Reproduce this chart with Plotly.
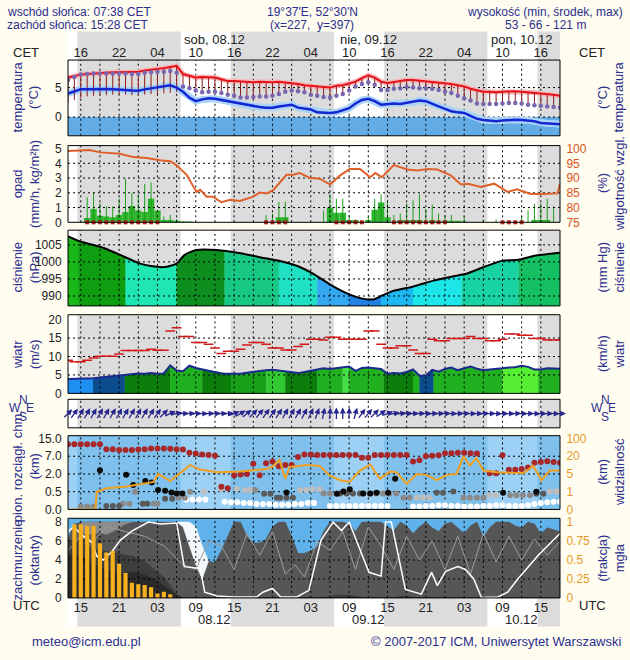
import numpy as np
import plotly.graph_objects as go

W, H = 630, 660
XL, XR = 68, 560

# ---------------- data (hours since 13 UTC 07.12) ----------------
hours = list(range(78))
utc_ticks = [2, 8, 14, 20, 26, 32, 38, 44, 50, 56, 62, 68, 74]
utc_labels = ['15', '21', '03', '09', '15', '21', '03', '09', '15', '21', '03', '09', '15']
cet_labels = ['16', '22', '04', '10', '16', '22', '04', '10', '16', '22', '04', '10', '16']
day_pos = [23, 47, 71]
day_top = ['sob, 08.12', 'nie, 09.12', 'pon, 10.12']
day_bottom = ['08.12', '09.12', '10.12']
night = [(1.47, 17.63), (25.47, 41.63), (49.47, 65.63), (73.47, 77)]

temp = [6.7, 7.0, 7.2, 7.3, 7.4, 7.5, 7.5, 7.6, 7.6, 7.6,
        7.6, 7.7, 7.9, 8.0, 8.1, 8.3, 8.5, 8.7, 7.3, 7.0,
        6.7, 6.8, 6.8, 6.7, 6.4, 6.1, 6.1, 6.0, 5.9, 5.9,
        6.0, 5.9, 5.9, 6.0, 5.9, 5.8, 5.6, 5.4, 5.3, 5.1,
        5.0, 5.0, 5.3, 5.4, 5.7, 6.0, 6.6, 7.1, 6.7, 6.0,
        5.8, 6.0, 6.2, 6.3, 6.3, 6.2, 6.1, 6.0, 5.9, 5.7,
        5.6, 5.4, 5.2, 4.8, 4.5, 4.3, 4.3, 4.2, 4.3, 4.4,
        4.4, 4.3, 4.2, 4.2, 4.0, 3.9, 3.8, 3.6]
dew = [4.0, 4.4, 4.7, 4.7, 4.75, 4.75, 4.75, 4.7, 4.7, 4.6,
       4.5, 4.45, 4.7, 4.9, 5.0, 5.2, 5.4, 5.0, 4.3, 3.3,
       2.7, 3.0, 3.2, 3.1, 2.9, 2.6, 2.5, 2.3, 2.0, 1.8,
       1.7, 1.6, 1.6, 1.8, 2.0, 2.1, 1.6, 1.4, 1.3, 0.8,
       0.7, 0.7, 0.8, 1.1, 1.5, 2.3, 2.9, 3.1, 2.7, 2.1,
       2.2, 2.3, 2.2, 2.4, 2.5, 2.8, 2.7, 2.2, 1.8, 1.4,
       1.0, 0.8, 0.7, 0.2, -0.3, -0.5, -0.6, -0.7, -0.6, -0.5,
       -0.45, -0.5, -0.55, -0.7, -1.0, -1.1, -1.1, -1.2]
feel = [6.3, 6.8, 7.2, 7.3, 7.4, 7.4, 7.4, 7.4, 7.4, 7.4,
        7.3, 7.3, 7.5, 7.6, 7.7, 7.7, 7.8, 7.5, 5.2, 4.9,
        4.5, 4.2, 4.3, 4.3, 4.1, 3.8, 3.6, 3.3, 3.3, 3.4,
        3.5, 3.5, 3.6, 3.9, 4.3, 4.5, 4.4, 4.2, 3.8, 3.6,
        3.4, 3.3, 3.6, 3.9, 4.5, 5.2, 5.6, 5.9, 5.5, 4.6,
        4.6, 4.8, 4.9, 5.1, 5.0, 4.9, 4.9, 4.8, 4.6, 4.3,
        4.1, 3.6, 3.2, 2.8, 2.3, 2.2, 2.2, 2.2, 2.3, 2.4,
        2.4, 2.3, 2.1, 2.0, 1.9, 1.8, 1.7, 1.6]
stem_low_night = [2.6, 2.9, 3.2, 3.5, 3.6, 3.7, 3.7, 3.8, 3.8, 3.8,
                  3.7, 3.7, 3.8, 3.9, 3.9, 4.0, 4.1, 4.3]
stem_low = stem_low_night + feel[18:]

precip_mean = [0, 0, 0, 0.3, 0.9, 0.45, 0.4, 0.35, 0.5, 0.7,
               1.1, 0.8, 0.7, 1.6, 0.8, 0.15, 0.15, 0.1, 0.05, 0.05,
               0, 0, 0, 0, 0, 0, 0, 0, 0, 0,
               0, 0, 0, 0.35, 0.35, 0, 0, 0, 0, 0,
               0, 1.0, 0.65, 0.65, 0.15, 0.15, 0, 0.15, 0.85, 1.35,
               0.35, 0, 0.15, 0.15, 0.15, 0.15, 0, 0.15, 0, 0.1,
               0.1, 0.1, 0.05, 0, 0, 0, 0, 0, 0, 0,
               0, 0, 0, 0.15, 0.15, 0.15, 0, 0]
precip_max = [0, 0, 0, 1.7, 2.0, 1.3, 1.1, 1.1, 1.6, 2.95,
              2.0, 1.9, 2.6, 2.7, 0.2, 0.4, 0.5, 0.2, 0.1, 0,
              0, 0, 0, 0, 0, 0, 0, 0, 0, 0,
              0, 0.5, 0.6, 1.4, 1.4, 0, 0, 0, 0, 0,
              0.8, 1.9, 1.6, 1.6, 0.5, 0.2, 0, 0.4, 1.6, 1.9,
              1.4, 0.5, 0.6, 1.3, 1.5, 1.9, 0.9, 1.2, 0.6, 0.5,
              0.5, 0, 0.4, 0, 0, 0.2, 0, 0.2, 0, 0.1,
              0, 0.4, 0.8, 1.25, 1.3, 1.6, 1.1, 0]
precip_flag_hours = [3, 4, 5, 6, 7, 8, 9, 10, 11, 12, 13, 14, 31, 32, 33, 34,
                     42, 43, 44, 45, 46, 51, 52, 53, 54, 55, 56, 57, 58, 59, 68, 69, 70, 71]
rh_hours = [0, 3.4, 5, 6.6, 8.1, 10.2, 12.3, 14.4, 16, 17, 18.6, 20.1, 20.7, 21.7, 22.7,
            24, 25.4, 26.9, 29, 30, 31.1, 32.1, 34.2, 35.2, 36.3, 37.9, 39.4, 41, 42.6,
            44.1, 45.7, 47.3, 48.1, 49.1, 51, 53.1, 54.7, 56.3, 57.8, 59.9, 61.5, 62.6,
            64.6, 66.7, 68.8, 70.3, 72.4, 74.5, 76.6, 77]
rh_values = [99.2, 99.5, 98.7, 98.4, 98.2, 97.1, 96.8, 96.0, 95.7, 94.3, 91.0, 85.3, 86.0,
             83.7, 83.7, 81.8, 82.6, 82.2, 83.7, 85.1, 84.8, 85.9, 91.1, 91.1, 91.7, 90.0,
             89.8, 87.8, 90.9, 93.1, 93.1, 90.3, 91.7, 90.3, 94.4, 92.9, 92.6, 93.1, 92.9,
             90.9, 87.8, 88.1, 87.0, 88.1, 85.3, 86.2, 84.6, 84.6, 84.8, 88.0]

p_hours = [0, 1.9, 5.7, 8.8, 11.3, 13.2, 15.1, 17, 18.2, 20.1, 23.3, 27, 30.2, 33.3, 35.9,
           38.4, 40.9, 43.4, 45.9, 47.8, 49, 50.9, 54.1, 57.2, 60.4, 62.3, 64.8, 67.9,
           70.5, 73, 77]
p_values = [1007.5, 1006, 1004, 1001.5, 999.5, 998.7, 998.5, 999.5, 1002, 1003.5, 1003.5,
            1002.5, 1001.3, 1000.2, 998.8, 996.5, 993.5, 991, 989.3, 989, 990, 991.5,
            992.8, 994.5, 995.8, 996.5, 998.3, 1000.3, 1000.6, 1001.8, 1002.7]
p_color_segments = [(0, 1.6, '#18B818'), (1.6, 9, '#0F9E12'), (9, 17, '#20E6B2'),
                    (17, 24.5, '#0D8E1E'), (24.5, 33, '#17C884'), (33, 39, '#20E0C4'),
                    (39, 44, '#34A8F2'), (44, 49, '#2282E4'), (49, 54, '#1DB8F2'),
                    (54, 61.6, '#1DE6E8'), (61.6, 70.5, '#19D4A2'), (70.5, 77, '#15C062')]

wind_mean = [3.9, 3.9, 3.9, 4.0, 4.1, 4.3, 4.5, 4.7, 4.9, 5.0,
             5.2, 5.4, 5.3, 5.5, 5.3, 5.4, 7.6, 6.2, 6.0, 7.5,
             6.9, 6.5, 6.2, 5.8, 5.4, 5.3, 5.3, 5.3, 5.6, 5.9,
             6.0, 6.3, 6.4, 6.2, 5.9, 5.6, 5.5, 5.8, 6.1, 6.5,
             6.8, 6.6, 6.9, 7.1, 7.3, 6.1, 6.9, 7.0, 6.8, 6.6,
             5.3, 5.5, 5.4, 5.8, 6.5, 4.8, 4.8, 6.4, 5.9, 6.6,
             7.0, 6.3, 6.8, 7.3, 6.7, 6.3, 6.5, 6.6, 6.8, 7.0,
             7.1, 7.5, 7.2, 6.5, 6.5, 6.8, 6.7, 6.7]
wind_gust = [9.0, 8.6, 8.6, 9.0, 9.6, 10.1, 10.1, 10.1, 10.7, 11.6,
             11.6, 11.6, 11.6, 12.0, 11.7, 11.7, 16.9, 17.8, 15.4, 15.4,
             13.8, 13.8, 13.3, 12.3, 10.8, 11.4, 11.4, 12.0, 13.1, 13.8,
             13.8, 13.3, 12.3, 12.3, 11.8, 11.8, 12.7, 13.3, 14.7, 14.7,
             14.5, 15.2, 15.2, 14.7, 14.7, 14.7, 14.7, 16.9, 16.9, 13.3,
             12.3, 12.3, 12.9, 12.9, 11.8, 10.8, 10.8, 14.7, 14.3, 14.3,
             14.9, 14.9, 14.9, 15.4, 14.9, 14.9, 14.3, 14.3, 14.7, 16.1,
             16.1, 15.8, 15.8, 14.9, 14.9, 14.5, 14.5, 14.5]
wind_color_segments = [(0, 3.9, '#1E8FF0'), (3.9, 8.9, '#0B4C8C'), (8.9, 16, '#0A7D0A'),
                       (16, 21, '#20B020'), (21, 25.5, '#0A7D0A'), (25.5, 31, '#18A018'),
                       (31, 34, '#32C832'), (34, 39, '#0A7D0A'), (39, 43, '#20B020'),
                       (43, 44, '#46DE46'), (44, 49.4, '#20B020'), (49.4, 54, '#0A7D0A'),
                       (54, 55, '#20B020'), (55, 57.2, '#0B4C8C'), (57.2, 68, '#20B020'),
                       (68, 73.6, '#55EE33'), (73.6, 77, '#22B022')]
wind_dir = [225, 215, 210, 210, 210, 210, 210, 210, 210, 210,
            210, 210, 210, 212, 215, 225, 245, 260, 268, 268,
            268, 270, 268, 268, 268, 265, 250, 240, 230, 225,
            220, 215, 215, 212, 210, 210, 210, 208, 205, 200,
            192, 185, 180, 180, 182, 195, 215, 220, 225, 235,
            250, 258, 262, 266, 268, 268, 270, 268, 266, 268,
            270, 268, 268, 270, 270, 268, 270, 272, 270, 270,
            268, 270, 270, 272, 270, 270, 272, 270]

cb_tick_km = [0, 0.5, 2, 7, 15]
cb_tick_text = ['0.0', '0.5', '2.0', '7.0', '15.0']
vis_tick_km = [0, 1, 5, 20, 100]
vis_tick_text = ['0', '1', '5', '20', '100']
red_hours = [0, 1, 2, 3, 4, 5, 6, 7, 8, 9, 10, 11, 12, 13, 14, 15, 16, 17, 18, 19, 20, 21, 22, 23,
             24, 25, 26, 27, 28, 29, 30, 31, 32, 33, 34, 35, 36, 37, 38, 39, 40, 41, 42, 43, 44,
             45, 46, 47, 48, 49, 50, 51, 52, 53, 54, 55, 56, 57, 58, 59, 60, 61, 62, 63, 64,
             66, 67, 68, 69, 70, 71, 72, 73, 74, 75, 76, 77]
red_km = [12.4, 12.4, 12.4, 12.4, 12.4, 12.4, 10.2, 10.2, 9.8, 9.8, 9.8, 10.0, 10.2,
          10.5, 10.5, 10.5, 10.4, 10.2, 10.0, 8.6, 8.2, 7.8, 7.6, 7.2,
          0.92, 0.79, 1.9, 1.95, 2.0, 4.9, 1.9, 5.0, 5.5, 4.2, 4.5, 4.5, 6.8, 7.8, 7.8,
          7.6, 7.6, 7.6, 7.6, 7.6, 7.6, 7.6, 6.6, 6.6, 7.6, 7.6, 7.6, 7.6, 7.6, 7.6,
          5.5, 5.9, 7.0, 7.2, 7.4, 8.4, 8.4, 8.6, 8.6, 8.4, 8.2,
          2.2, 2.2, 7.4, 3.2, 3.2, 3.4, 3.8, 5.2, 5.4, 5.6, 5.4, 5.2]
black_hours = [5, 9.1, 10.2, 12.1, 13.1, 14.1, 15.2, 16.2, 17, 17.9, 34.2, 42.1, 43.1, 44.1,
               46.2, 47.3, 48.3, 50.1, 51.2, 68.1, 73.3]
black_km = [3.05, 1.93, 1.06, 1.4, 1.27, 0.65, 0.59, 0.48, 0.45, 0.45, 0.48, 0.44, 0.52,
            0.71, 0.45, 0.45, 0.47, 0.47, 1.6, 0.47, 0.5]
dgray_hours = [6, 7, 8, 11.7, 12.4, 15.2, 16.3, 30.7, 31.7, 32.7, 33.2, 34.2, 35.2, 42.6,
               43.6, 44.6, 45.7, 57.7, 58.7, 60.3, 73.3, 74.4]
dgray_km = [0.1, 0.1, 0.1, 0.16, 0.16, 0.3, 0.3, 0.44, 0.44, 0.33, 0.33, 0.33, 0.33, 0.45,
            0.45, 0.45, 0.45, 0.47, 0.47, 0.52, 0.44, 0.44]
mgray_hours = [2, 3, 4, 8.6, 9.6, 10.5, 13.4, 14, 17.3, 18.3, 19.1, 29.3, 40, 41, 42, 46.2,
               47.2, 48.2, 49.3, 50.3, 51.4, 52.5, 53.5, 61.9, 62.9, 64, 65, 69.2, 70.2,
               71.2, 72.3]
mgray_km = [0.08, 0.08, 0.08, 0.16, 0.16, 0.5, 0.16, 0.16, 0.33, 0.33, 0.5, 0.65, 0.45,
            0.45, 0.45, 0.45, 0.45, 0.45, 0.45, 0.45, 0.45, 0.33, 0.33, 0.33, 0.33, 0.33,
            0.33, 0.4, 0.4, 0.4, 0.4]
lgray_hours = [21.3, 23.9, 26.4, 27.7, 28.5, 36.3, 37.3, 38.3, 39.4, 54.6, 55.6, 56.6, 66,
               67, 75.4, 76.4, 77]
lgray_km = [0.52, 0.72, 0.72, 0.65, 0.65, 0.65, 0.65, 0.7, 0.7, 0.33, 0.33, 0.33, 0.4, 0.4,
            0.52, 0.52, 0.52]
white_hours = [18.5, 19.5, 20.5, 21.5,
               24.5, 25.5, 26.5, 27.5, 28.5, 29.5, 30.5, 31.5, 32.5, 33.5, 34.5, 35.5, 36.5,
               37.5, 38.5,
               41, 42, 43, 44, 45, 46, 47, 48, 49, 50,
               54, 55, 56, 57, 58, 59, 60, 61, 62, 63, 64, 65, 66, 67, 68, 69, 70, 71, 72,
               73, 74, 75, 76, 77]
white_km = [0.28, 0.28, 0.28, 0.28,
            0.22, 0.2, 0.2, 0.18, 0.18, 0.15, 0.15, 0.15, 0.13, 0.13, 0.13, 0.15, 0.15,
            0.18, 0.18,
            0.1, 0.1, 0.1, 0.1, 0.1, 0.1, 0.1, 0.1, 0.1, 0.1,
            0.08, 0.08, 0.1, 0.1, 0.12, 0.12, 0.1, 0.1, 0.08, 0.08, 0.08, 0.1, 0.1, 0.12,
            0.12, 0.1, 0.1, 0.1, 0.12, 0.15, 0.18, 0.2, 0.22, 0.22]
vis_hours = [0, 4.3, 4.5, 6.1, 9.2, 12.3, 13.4, 14.1, 16, 19.1, 20.7, 23.3, 26.9, 31.1, 32.1,
             33.1, 34, 34.7, 37.4, 39.4, 41, 42.6, 44.1, 45.7, 47.3, 48.8, 50.4, 51.4, 53,
             54.6, 56.1, 57.7, 59.3, 60.8, 61.9, 62.9, 63.9, 65, 67.1, 69.2, 71.3, 72.8,
             74.1, 75.4, 77]
vis_km = [0, 0, 1.0, 1.76, 2.2, 2.84, 3.2, 5.0, 3.4, 12.5, 8.75, 6.5, 7.0, 9.2, 11.5,
          17, 3.9, 11, 12.5, 11.8, 4.6, 3.6, 3.2, 7.9, 13, 3.9, 7.0, 6.5, 2.8,
          5.0, 4.8, 3.6, 4.8, 5.0, 20, 12, 18.5, 7.9, 6.5, 6.0, 5.8, 12,
          3.6, 7.9, 7.9]

cloud_total = [6.3, 7.8, 8, 8, 8, 8, 8, 8, 8, 8,
               8, 8, 8, 8, 8, 8, 8, 8, 7.5, 5.5,
               3.5, 2.0, 3.9, 3.7, 5.0, 6.5, 8, 8, 6.5, 5.8,
               5.8, 6.2, 7.5, 8, 8, 6.5, 4.7, 4.7, 5.0, 5.4,
               7.0, 8, 8, 8, 7.8, 7.0, 8, 8, 8, 8,
               7.5, 7.1, 8, 7.6, 6.8, 7.5, 8, 7.4, 7.0, 7.8,
               8, 7.4, 6.8, 7.6, 8, 6.4, 7.4, 8, 8, 8,
               7.6, 7.4, 8, 7.8, 6.8, 7.4, 7.2, 7.0]
cloud_high_hours = [2, 3, 4, 5, 6, 7, 8, 9, 10]
cloud_high_base = [7.0, 6.6, 6.8, 6.9, 6.7, 7.0, 7.4, 7.8, 8.0]
white_patch_hours = [17, 18, 19, 20, 21, 22]
white_patch_top = [8, 8, 8, 7.5, 5.5, 3.9]
cloud_low = [6.0, 6.2, 6.0, 5.5, 5.2, 5.0, 4.9, 4.8, 4.7, 4.5,
             4.4, 4.2, 3.8, 3.3, 2.7, 2.2, 1.3, 0.4, 0, 0,
             0, 0, 0, 0, 0, 0, 0, 0, 0, 0,
             0, 0, 0, 0, 0, 0, 0, 0, 0, 0,
             0, 0.2, 0.3, 0.3, 0.3, 0.2, 0.1, 0, 0, 0,
             0, 0, 0.2, 0.2, 0.1, 0, 0, 0, 0, 0,
             0, 0, 0, 0, 0, 0, 0, 0, 0, 0,
             0, 0, 0, 0, 0, 0, 0, 0]
cloud_vlow = [4.5, 4.6, 4.4, 4.0, 3.6, 3.2, 3.0, 2.8, 2.5, 2.6,
              2.7, 2.6, 2.4, 2.1, 1.8, 1.3, 0.8, 0.2] + [0] * 60
fog_hours = [1, 2, 3, 4, 5, 6, 7, 8, 9, 10, 11, 12, 13, 14, 15, 16]
fog_frac = [0.97, 0.97, 0.95, 0.95, 0.72, 0.60, 0.62, 0.45, 0.33, 0.20, 0.18, 0.17,
            0.14, 0.06, 0.08, 0.05]
wline_hours = [0, 0.9, 1.9, 3.8, 4.5, 5.5, 6.9, 8.2, 10.1, 12.6, 14.5, 17, 18.2, 20.7,
               21.4, 23.3, 25.8, 29.5, 30.5, 32, 33.3, 35.8, 37.7, 39.6, 41.5, 42.8, 44,
               45.9, 47.1, 49, 49.7, 50.6, 52.8, 55.3, 56.9, 57.8, 59.1, 61, 62.2, 63.5,
               64.7, 67.3, 68.8, 70.4, 73.6, 77]
wline_vals = [7.0, 7.5, 6.8, 5.8, 4.4, 4.0, 4.9, 6.1, 7.1, 8.0, 7.8, 7.9, 3.3, 3.1, 0.6,
              0.2, 0.1, 0.1, 0.6, 1.0, 0.1, 0.1, 0.8, 6.1, 8.0, 7.1, 8.0, 4.7, 2.7, 2.3,
              8.0, 8.0, 0.9, 0.4, 2.7, 1.3, 2.8, 3.3, 3.0, 2.0, 0.05, 0.1, 0.6, 2.0, 4.5,
              6.8]
gline_hours = [0, 2, 4, 6, 9, 12, 15, 18, 20, 22, 24, 26, 28, 30, 32, 34, 35.5, 37, 39, 41,
               43, 45, 47, 49, 51, 53, 55, 57, 59, 61, 63, 65, 67, 69, 71, 73, 75, 77]
gline_vals = [5, 6.5, 6, 7.5, 7, 6.5, 5.5, 3.5, 3.0, 6, 5.5, 3, 6.8, 4.5, 7.0, 2.5, 3.5,
              2.2, 6, 5, 7, 3, 7.5, 5.5, 3, 6.5, 4.0, 6.0, 3.0, 6.5, 2.5, 6.8, 3.8, 6.5,
              4.0, 6.2, 4.5, 6.0]

# ---------------- geometry / style ----------------
FONT = 'Liberation Sans, Arial, sans-serif'
NAVY = '#2B2F8E'
TICKC = '#222222'
ORANGE_RH = '#D9541E'
ORANGE = '#E89B2A'
NIGHT_GRAY = '#DCDCDC'
PANELS = {'temp': (57, 134), 'prec': (144, 222), 'pres': (230, 307), 'wind': (316, 396),
          'dir': (402, 431), 'vis': (439, 514), 'cld': (523, 604)}


def py(p):
    return 1 - p / H


def px(p):
    return p / W


def dom(name):
    t, b = PANELS[name]
    return [py(b), py(t)]


R = {
    'y': [-3.17, 9.67], 'y3': [0, 5.2], 'y4': [75, 101], 'y5': [987.1, 1009.3],
    'y7': [0, 21.33], 'y8': [0, 76.8], 'y9': [-1, 1], 'y10': [0, 4.16], 'y12': [0, 8.4],
    'y13': [0, 8.4 / 8],
}
R['y2'] = R['y']
R['y6'] = [R['y5'][0] * 0.750062, R['y5'][1] * 0.750062]
R['y11'] = R['y10']


def cb_idx(v):
    return list(np.interp(v, cb_tick_km, [0, 1, 2, 3, 4]))


def vis_idx(v):
    return list(np.interp(v, vis_tick_km, [0, 1, 2, 3, 4]))


def grid(yaxis, hvals, vlines=True):
    y0, y1 = R[yaxis]
    xs, ys = [], []
    if vlines:
        for v in range(2, 77, 3):
            xs += [v, v, None]
            ys += [y0, y1, None]
    for hv in hvals:
        xs += [0, 77, None]
        ys += [hv, hv, None]
    return go.Scatter(x=xs, y=ys, mode='lines', yaxis=yaxis, hoverinfo='skip',
                      line=dict(color='#000000', width=1, dash='2px,3px'), showlegend=False)


def seg_polys(xh, yv, segs, base, yaxis):
    out = []
    for a, b, col in segs:
        xs = [a] + [t for t in xh if a < t < b] + [b]
        ys = list(np.interp(xs, xh, yv))
        out.append(go.Scatter(x=xs + [b, a], y=ys + [base, base], fill='toself',
                              fillcolor=col, mode='lines', line=dict(color=col, width=0.6),
                              yaxis=yaxis, hoverinfo='skip', showlegend=False))
    return out


traces = []

# ---- temperature ----
traces.append(grid('y', [0, 5]))
sx, sy = [], []
for h in hours:
    sx += [h, h, None]
    sy += [temp[h], stem_low[h], None]
traces.append(go.Scatter(x=hours, y=dew, mode='lines', yaxis='y',
                         line=dict(color='#A9D3F8', width=7), hoverinfo='skip'))
traces.append(go.Scatter(x=hours, y=temp, mode='lines', yaxis='y',
                         line=dict(color='#F6B9B9', width=5), hoverinfo='skip'))
traces.append(go.Scatter(x=sx, y=sy, mode='lines', yaxis='y',
                         line=dict(color='#8E1B1B', width=1), hoverinfo='skip'))
traces.append(go.Scatter(x=hours, y=dew, mode='lines', yaxis='y',
                         line=dict(color='#1426D2', width=2.5), hoverinfo='skip'))
traces.append(go.Scatter(x=hours, y=temp, mode='lines', yaxis='y',
                         line=dict(color='#E3121B', width=2), hoverinfo='skip'))
traces.append(go.Scatter(x=hours, y=feel, mode='markers', yaxis='y',
                         marker=dict(color='#7A66B0', size=4.5), hoverinfo='skip'))

# ---- precipitation ----
traces.append(go.Bar(x=hours, y=precip_mean, width=1.0, yaxis='y3',
                     marker=dict(color='#2DB42D', line=dict(width=0)), hoverinfo='skip'))
mx, my = [], []
for h in hours:
    if precip_max[h] > 0:
        mx += [h, h, None]
        my += [0, precip_max[h], None]
traces.append(go.Scatter(x=mx, y=my, mode='lines', yaxis='y3',
                         line=dict(color='#19A019', width=1), hoverinfo='skip'))
traces.append(grid('y3', [1, 2, 3, 4]))
traces.append(go.Scatter(x=precip_flag_hours, y=[0] * len(precip_flag_hours), mode='markers',
                         yaxis='y3', cliponaxis=False,
                         marker=dict(symbol='square', size=4, color='#B3261E'), hoverinfo='skip'))
traces.append(go.Scatter(x=rh_hours, y=rh_values, mode='lines', yaxis='y4',
                         line=dict(color='#E0602A', width=2), hoverinfo='skip'))

# ---- pressure ----
traces += seg_polys(p_hours, p_values, p_color_segments, R['y5'][0] - 5, 'y5')
traces.append(go.Scatter(x=p_hours, y=p_values, mode='lines', yaxis='y5',
                         line=dict(color='#000000', width=2, shape='spline', smoothing=0.6),
                         hoverinfo='skip'))
traces.append(grid('y5', [990, 995, 1000, 1005]))

# ---- wind ----
traces += seg_polys(hours, wind_mean, wind_color_segments, 0, 'y7')
traces.append(grid('y7', [5, 10, 15]))
traces.append(go.Scatter(x=hours, y=wind_mean, mode='lines', yaxis='y7',
                         line=dict(color='#1B2A8C', width=2), hoverinfo='skip'))
traces.append(go.Scatter(x=hours, y=wind_gust, mode='markers', yaxis='y7',
                         marker=dict(symbol='line-ew', size=7,
                                     line=dict(color='#D21A1A', width=1.5)), hoverinfo='skip'))

# ---- wind direction ----
traces.append(grid('y9', []))

# ---- visibility / cloud base ----
traces.append(grid('y10', [1, 2, 3]))
for hh, kk, col in [(white_hours, white_km, '#FFFFFF'), (lgray_hours, lgray_km, '#BDBDBD'),
                    (mgray_hours, mgray_km, '#8A8A8A'), (dgray_hours, dgray_km, '#5A5A5A'),
                    (black_hours, black_km, '#0A0A0A'), (red_hours, red_km, '#A8282A')]:
    traces.append(go.Scatter(x=hh, y=cb_idx(kk), mode='markers', yaxis='y10',
                             marker=dict(color=col, size=6), hoverinfo='skip'))
traces.append(go.Scatter(x=vis_hours, y=vis_idx(vis_km), mode='lines', yaxis='y11',
                         cliponaxis=False, line=dict(color='#F0A020', width=2), hoverinfo='skip'))

# ---- cloud cover ----
traces.append(go.Scatter(x=hours, y=cloud_total, mode='lines', fill='tozeroy', yaxis='y12',
                         fillcolor='#565656', line=dict(color='#565656', width=0.5),
                         hoverinfo='skip'))
ch_top = [cloud_total[h] for h in cloud_high_hours]
traces.append(go.Scatter(x=cloud_high_hours + cloud_high_hours[::-1],
                         y=ch_top + cloud_high_base[::-1], fill='toself', mode='lines',
                         fillcolor='#8C8C8C', line=dict(color='#8C8C8C', width=0.5),
                         yaxis='y12', hoverinfo='skip'))
wp_bot = [cloud_total[h] for h in white_patch_hours]
traces.append(go.Scatter(x=white_patch_hours + white_patch_hours[::-1],
                         y=white_patch_top + wp_bot[::-1], fill='toself', mode='lines',
                         fillcolor='#F4F8FA', line=dict(color='#F4F8FA', width=0.5),
                         yaxis='y12', hoverinfo='skip'))
traces.append(go.Scatter(x=hours, y=cloud_low, mode='lines', fill='tozeroy', yaxis='y12',
                         fillcolor='#3D3D3D', line=dict(color='#3D3D3D', width=0.5),
                         hoverinfo='skip'))
traces.append(go.Scatter(x=hours, y=cloud_vlow, mode='lines', fill='tozeroy', yaxis='y12',
                         fillcolor='#2A2A2A', line=dict(color='#2A2A2A', width=0.5),
                         hoverinfo='skip'))
traces.append(grid('y12', [2, 4, 6]))
traces.append(go.Scatter(x=gline_hours, y=gline_vals, mode='lines', yaxis='y12',
                         line=dict(color='#9C9C9C', width=1), hoverinfo='skip'))
traces.append(go.Scatter(x=wline_hours, y=wline_vals, mode='lines', yaxis='y12',
                         line=dict(color='#FFFFFF', width=1.5), hoverinfo='skip'))
traces.append(go.Bar(x=fog_hours, y=fog_frac, width=0.65, yaxis='y13',
                     marker=dict(color='#F7B01E', line=dict(width=0)), hoverinfo='skip'))

# dummy trace for top axis
traces.append(go.Scatter(x=[0], y=[0], xaxis='x2', yaxis='y', mode='markers',
                         marker=dict(opacity=0), hoverinfo='skip'))

fig = go.Figure(data=traces)
for t in fig.data:
    if t.xaxis is None:
        t.xaxis = 'x'
    t.showlegend = False


def yax(name, rng, tickvals=None, ticktext=None, side='left', overlay=None, color=TICKC):
    d = dict(domain=dom(name), range=rng, anchor='x', side=side, showgrid=False,
             zeroline=False, showline=False, ticks='outside', ticklen=3,
             tickcolor='rgba(0,0,0,0)', fixedrange=True,
             tickfont=dict(size=12, color=color, family=FONT))
    if tickvals is None:
        d['showticklabels'] = False
    else:
        d['tickvals'] = tickvals
        if ticktext:
            d['ticktext'] = ticktext
    if overlay:
        d['overlaying'] = overlay
    return d


xcommon = dict(domain=[px(XL), px(XR)], range=[0, 77], showgrid=False, zeroline=False,
               showline=False, ticks='', fixedrange=True, tickvals=utc_ticks,
               tickfont=dict(size=13, color=TICKC, family=FONT))
layout = dict(
    width=W, height=H, margin=dict(l=0, r=0, t=0, b=0, pad=0), autosize=False,
    paper_bgcolor='#FFFCF0', plot_bgcolor='#FFFFFF', showlegend=False, barmode='overlay',
    hovermode=False, font=dict(family=FONT, size=12, color=TICKC),
    xaxis=dict(xcommon, anchor='free', position=py(604), side='bottom', ticktext=utc_labels),
    xaxis2=dict(xcommon, anchor='free', position=py(57), side='top', ticktext=cet_labels,
                overlaying='x'),
    yaxis=yax('temp', R['y'], [0, 5]),
    yaxis2=yax('temp', R['y2'], [0, 5], side='right', overlay='y'),
    yaxis3=yax('prec', R['y3'], [0, 1, 2, 3, 4, 5]),
    yaxis4=yax('prec', R['y4'], [75, 80, 85, 90, 95, 100], side='right', overlay='y3',
               color=ORANGE_RH),
    yaxis5=yax('pres', R['y5'], [990, 995, 1000, 1005]),
    yaxis6=yax('pres', R['y6'], [742, 746, 750, 754], side='right', overlay='y5'),
    yaxis7=yax('wind', R['y7'], [0, 5, 10, 15, 20]),
    yaxis8=yax('wind', R['y8'], [0, 18, 36, 54, 72], side='right', overlay='y7'),
    yaxis9=yax('dir', R['y9']),
    yaxis10=yax('vis', R['y10'], [0, 1, 2, 3, 4], cb_tick_text),
    yaxis11=yax('vis', R['y11'], [0, 1, 2, 3, 4], vis_tick_text, side='right',
                overlay='y10', color=ORANGE),
    yaxis12=yax('cld', R['y12'], [0, 2, 4, 6, 8]),
    yaxis13=yax('cld', R['y13'], [0, 0.25, 0.5, 0.75, 1], ['0', '0.25', '0.5', '0.75', '1'],
                side='right', overlay='y12', color=ORANGE),
)
fig.update_layout(**layout)

# ---------------- shapes ----------------
shapes = []
for (y0, y1) in [(28, 57), (604, 633)]:
    shapes.append(dict(type='rect', xref='x', yref='paper', x0=0, x1=77, y0=py(y1), y1=py(y0),
                       fillcolor='#FFFFFF', line=dict(width=0), layer='below'))
    for a, b in night:
        shapes.append(dict(type='rect', xref='x', yref='paper', x0=a, x1=b, y0=py(y1),
                           y1=py(y0), fillcolor=NIGHT_GRAY, line=dict(width=0), layer='below'))
for ax in ['y', 'y3', 'y5', 'y7', 'y9']:
    for a, b in night:
        shapes.append(dict(type='rect', xref='x', yref=ax + ' domain', x0=a, x1=b, y0=0, y1=1,
                           fillcolor=NIGHT_GRAY, line=dict(width=0), layer='below'))
shapes.append(dict(type='rect', xref='x domain', yref='y', x0=0, x1=1, y0=R['y'][0], y1=0,
                   fillcolor='#62ABE4', line=dict(width=0), layer='below'))
shapes.append(dict(type='rect', xref='x domain', yref='y10 domain', x0=0, x1=1, y0=0, y1=1,
                   fillcolor='#80C0EC', line=dict(width=0), layer='below'))
shapes.append(dict(type='rect', xref='x domain', yref='y12 domain', x0=0, x1=1, y0=0, y1=1,
                   fillcolor='#60B2EA', line=dict(width=0), layer='below'))
days = [(0, 1.47), (17.63, 25.47), (41.63, 49.47), (65.63, 73.47)]
for a, b in days:
    shapes.append(dict(type='rect', xref='x', yref='y10 domain', x0=a, x1=b, y0=0, y1=1,
                       fillcolor='#9CD0F5', line=dict(width=0), layer='below'))
for ax in ['y', 'y3', 'y5', 'y7', 'y9', 'y10', 'y12']:
    shapes.append(dict(type='rect', xref='x domain', yref=ax + ' domain', x0=0, x1=1, y0=0,
                       y1=1, line=dict(color='#000000', width=1), layer='above'))
fig.update_layout(shapes=shapes)

# ---------------- annotations ----------------
ann = []


def txt(x, y, s, size=13, color=NAVY, xanchor='center', angle=0, align='center'):
    ann.append(dict(x=px(x), y=py(y), xref='paper', yref='paper', text=s, showarrow=False,
                    xanchor=xanchor, yanchor='middle', textangle=angle, align=align,
                    font=dict(size=size, color=color, family=FONT)))


txt(5, 8, 'wschód słońca: 07:38 CET', size=12, xanchor='left', align='left')
txt(5, 21, 'zachód słońca: 15:28 CET', size=12, xanchor='left', align='left')
txt(312, 8, "19°37'E, 52°30'N", size=12)
txt(312, 21, '(x=227,  y=397)', size=12)
txt(545, 8, 'wysokość (min, środek, max)', size=12)
txt(545, 21, '53 - 66 - 121 m', size=12)
txt(26, 49, 'CET', color=TICKC)
txt(592, 49, 'CET', color=TICKC)
txt(26, 612, 'UTC', color=TICKC)
txt(592, 612, 'UTC', color=TICKC)
for pos, s in zip(day_pos, day_top):
    ann.append(dict(x=pos, y=py(36), xref='x', yref='paper', text=s, showarrow=False,
                    yanchor='middle', font=dict(size=13, color=TICKC, family=FONT)))
for pos, s in zip(day_pos, day_bottom):
    ann.append(dict(x=pos, y=py(626), xref='x', yref='paper', text=s, showarrow=False,
                    yanchor='middle', font=dict(size=13, color=TICKC, family=FONT)))
left_titles = [(95, 'temperatura<br>(°C)'), (183, 'opad<br>(mm/h, kg/m²h)'),
               (268, 'ciśnienie<br>(hPa)'), (356, 'wiatr<br>(m/s)'),
               (470, 'pion. rozciągł. chm.<br>(km)'), (566, 'zachmurzenie<br>(oktanty)')]
right_titles = [(95, '(°C)<br>temperatura'), (183, '(%)<br>wilgotność wzgl.'),
                (268, '(mm Hg)<br>ciśnienie'), (356, '(km/h)<br>wiatr'),
                (476, '(km)<br>widzialność'), (564, '(frakcja)<br>mgła')]
for y, s in left_titles:
    txt(26, y, s, angle=-90)
for y, s in right_titles:
    txt(611, y, s, angle=-90)
for cx in (23, 605):
    txt(cx, 403, 'N', size=12)
    txt(cx - 8, 411, 'W', size=12)
    txt(cx + 7, 411, 'E', size=12)
    txt(cx, 420, 'S', size=12)
txt(30, 648, 'meteo@icm.edu.pl', xanchor='left')
txt(624, 648, '© 2007-2017 ICM, Uniwersytet Warszawski', xanchor='right')

L = 12
for h in hours:
    th = np.radians((wind_dir[h] + 180) % 360)
    s, c = np.sin(th), np.cos(th)
    ann.append(dict(x=h, y=0, xref='x', yref='y9', text='', showarrow=True,
                    ax=-L * s, ay=L * c, axref='pixel', ayref='pixel',
                    xshift=L / 2 * s, yshift=L / 2 * c, standoff=0, startstandoff=0,
                    font=dict(size=1), borderpad=0,
                    arrowhead=2, arrowsize=0.9, arrowwidth=1.3, arrowcolor='#26268C'))
fig.update_layout(annotations=ann)

fig.write_html('out.html', config={'displayModeBar': False, 'staticPlot': True},
               post_script="document.body.style.margin='0px';"
               "document.body.style.padding='0px';")
